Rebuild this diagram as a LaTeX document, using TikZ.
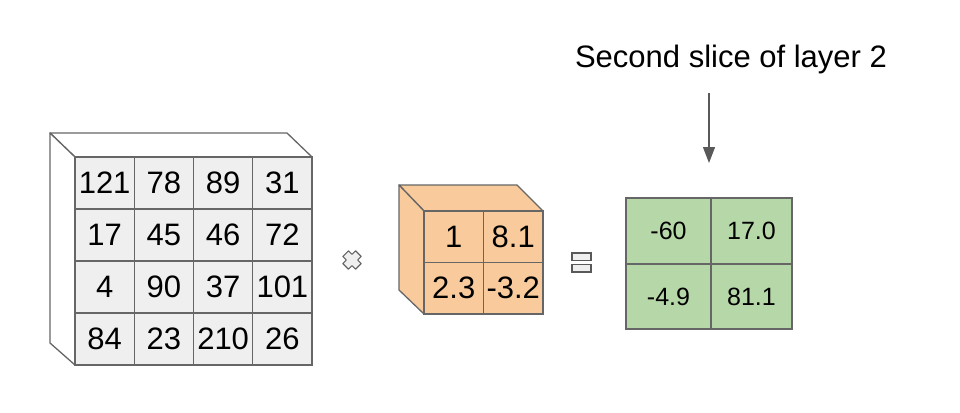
\documentclass[tikz,border=0pt]{standalone}
\usepackage{fontspec}
\setmainfont{Liberation Sans}
\usetikzlibrary{arrows.meta}
\definecolor{edgegray}{HTML}{666666}
\definecolor{cellgray}{HTML}{EFEFEF}
\definecolor{kernelorange}{HTML}{F9CB9C}
\definecolor{outgreen}{HTML}{B6D7A8}
\definecolor{arrowgray}{HTML}{595959}
\begin{document}
\begin{tikzpicture}[x=1pt,y=-1pt,
  face/.style={draw=edgegray,line width=1.3pt,line join=round},
  cell/.style={draw=edgegray,line width=1.3pt,inner sep=0pt,font=\fontsize{31}{31}\selectfont},
  outcell/.style={cell,minimum width=85pt,minimum height=66pt,fill=outgreen,font=\fontsize{25}{25}\selectfont}]
\useasboundingbox (0,0) rectangle (960,412);
% input volume
\draw[face,fill=white] (50,133) -- (287,133) -- (312,157) -- (75,157) -- cycle;
\draw[face,fill=white] (50,133) -- (75,157) -- (75,365) -- (50,343) -- cycle;
\foreach \row [count=\i] in {{121,78,89,31},{17,45,46,72},{4,90,37,101},{84,23,210,26}}
  \foreach \v [count=\j] in \row
    \node[cell,fill=cellgray,minimum width=59.25pt,minimum height=52pt] (in-\i-\j)
      at ({75+59.25*(\j-0.5)},{157+52*(\i-0.5)}) {\v};
% times
\begin{scope}[shift={(352,260)},rotate=45]
\draw[fill=cellgray,draw=edgegray,line width=1.1pt,line join=round]
  (-4,-9) -- (4,-9) -- (4,-4) -- (9,-4) -- (9,4) -- (4,4) -- (4,9) -- (-4,9)
  -- (-4,4) -- (-9,4) -- (-9,-4) -- (-4,-4) -- cycle;
\end{scope}
% filter
\draw[face,fill=kernelorange] (399,185) -- (517,185) -- (543,211) -- (424,211) -- cycle;
\draw[face,fill=kernelorange] (399,185) -- (424,211) -- (424,314) -- (399,290) -- cycle;
\foreach \row [count=\i] in {{1,8.1},{2.3,-3.2}}
  \foreach \v [count=\j] in \row
    \node[cell,fill=kernelorange,minimum width=59.5pt,minimum height=51.5pt] (w-\i-\j)
      at ({424+59.5*(\j-0.5)},{211+51.5*(\i-0.5)}) {\v};
% equals
\draw[fill=cellgray,draw=arrowgray,line width=1.4pt] (572,253) rectangle (591,260.5);
\draw[fill=cellgray,draw=arrowgray,line width=1.4pt] (572,264.5) rectangle (591,272);
% output slice
\node[outcell] (out-1-1) at (668.5,231) {-60};
\node[outcell,minimum width=81pt] (out-1-2) at (751.5,231) {17.0};
\node[outcell,minimum height=65pt] (out-2-1) at (668.5,296.5) {-4.9};
\node[outcell,minimum width=81pt,minimum height=65pt] (out-2-2) at (751.5,296.5) {81.1};
\node[font=\fontsize{31}{31}\selectfont] (title) at (731,59) {Second slice of layer 2};
\coordinate (slicestart) at (709,93);
\coordinate (sliceend) at (709,163);
\draw[arrowgray,line width=1.3pt,-{Triangle[length=16pt,width=12pt]}] (slicestart) -- (sliceend);
\end{tikzpicture}
\end{document}
